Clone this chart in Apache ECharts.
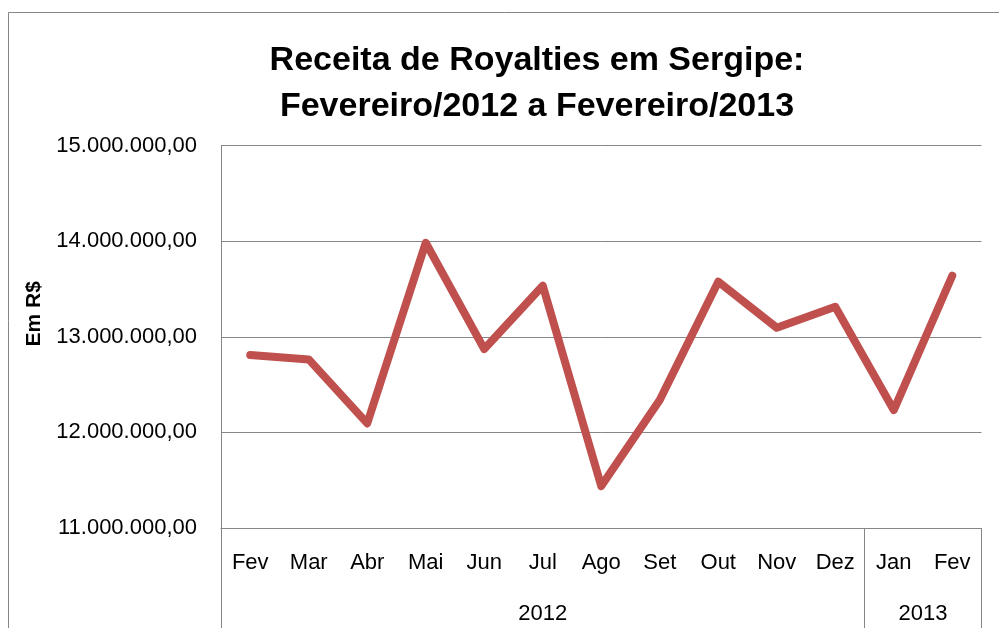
<!DOCTYPE html>
<html>
<head>
<meta charset="utf-8">
<script src="https://cdn.jsdelivr.net/npm/echarts@6/dist/echarts.min.js"></script>
<style>
	html, body { margin: 0; padding: 0; background: #fff; }
	#chart { width: 999px; height: 628px; }
</style>
</head>
<body>
<div id="chart"></div>
<script>
var titleText = 'Receita de Royalties em Sergipe:\nFevereiro/2012 a Fevereiro/2013';
var axisName = 'Em R$';
var months = ['Fev', 'Mar', 'Abr', 'Mai', 'Jun', 'Jul', 'Ago', 'Set', 'Out', 'Nov', 'Dez', 'Jan', 'Fev'];
var royalties = [12809000, 12763000, 12094000, 13983000, 12871000, 13534000, 11438000, 12338000, 13576000, 13094000, 13314000, 12233000, 13638000];
var years = ['2012', '2013'];
var yearSpans = [11, 2];   // meses em cada ano

var yMin = 11000000;
var yMax = 15000000;
var yStep = 1000000;

var gray = '#868686';
var font = '"Liberation Sans Narrow", "Liberation Sans", sans-serif';

// valores no formato brasileiro: 15.000.000,00
function formatBR(v) {
	var parts = v.toFixed(2).split('.');
	var inteiro = parts[0].replace(/\B(?=(\d{3})+(?!\d))/g, '.');
	return inteiro + ',' + parts[1];
}

// limites e centros dos anos no eixo secundario
var yearBounds = [0];
var yearCenters = [];
var acc = 0;
for (var i = 0; i < yearSpans.length; i++) {
	yearCenters.push(acc + yearSpans[i] / 2);
	acc += yearSpans[i];
	yearBounds.push(acc);
}

var chart = echarts.init(document.getElementById('chart'), null, { renderer: 'canvas' });

var option = {
	animation: false,
	backgroundColor: '#fff',
	textStyle: { fontFamily: font },
	title: {
		text: titleText,
		top: 33,
		left: 532,
		textAlign: 'center',
		textStyle: { fontFamily: font, fontWeight: 'bold', fontSize: 34, lineHeight: 46, color: '#000' }
	},
	graphic: [{
		type: 'rect',
		shape: { x: 8.5, y: 12.5, width: 1100, height: 800 },
		style: { fill: 'none', stroke: gray, lineWidth: 1 },
		silent: true,
		z: -1
	}],
	grid: { left: 221, top: 145.5, right: 17.5, bottom: 100, containLabel: false },
	xAxis: [{
		type: 'category',
		data: months,
		boundaryGap: true,
		axisLine: { show: true, lineStyle: { color: gray, width: 1 } },
		axisTick: { show: false },
		axisLabel: { color: '#000', fontSize: 22, margin: 24, interval: 0, fontFamily: font }
	}, {
		type: 'value',
		min: 0,
		max: months.length,
		position: 'bottom',
		axisLine: { show: false },
		splitLine: { show: false },
		axisTick: {
			show: true,
			customValues: yearBounds,
			length: 102,
			lineStyle: { color: gray, width: 1 }
		},
		axisLabel: {
			customValues: yearCenters,
			margin: 75,
			color: '#000',
			fontSize: 22,
			fontFamily: font,
			formatter: function(v) {
				var k = yearCenters.indexOf(v);
				return k >= 0 ? years[k] : '';
			}
		}
	}],
	yAxis: {
		type: 'value',
		min: yMin,
		max: yMax,
		interval: yStep,
		name: axisName,
		nameLocation: 'middle',
		nameGap: 176,
		nameTextStyle: { color: '#000', fontWeight: 'bold', fontSize: 21, fontFamily: font, padding: [0, 0, 0, 46] },
		axisLine: { show: true, lineStyle: { color: gray, width: 1 } },
		axisTick: { show: false },
		splitLine: { show: true, lineStyle: { color: gray, width: 1 } },
		axisLabel: { color: '#000', fontSize: 22, margin: 24, fontFamily: font, formatter: formatBR }
	},
	series: [{
		type: 'line',
		data: royalties,
		xAxisIndex: 0,
		symbol: 'none',
		lineStyle: { color: '#C0504D', width: 8, cap: 'round', join: 'round' }
	}]
};

chart.setOption(option);
</script>
</body>
</html>
